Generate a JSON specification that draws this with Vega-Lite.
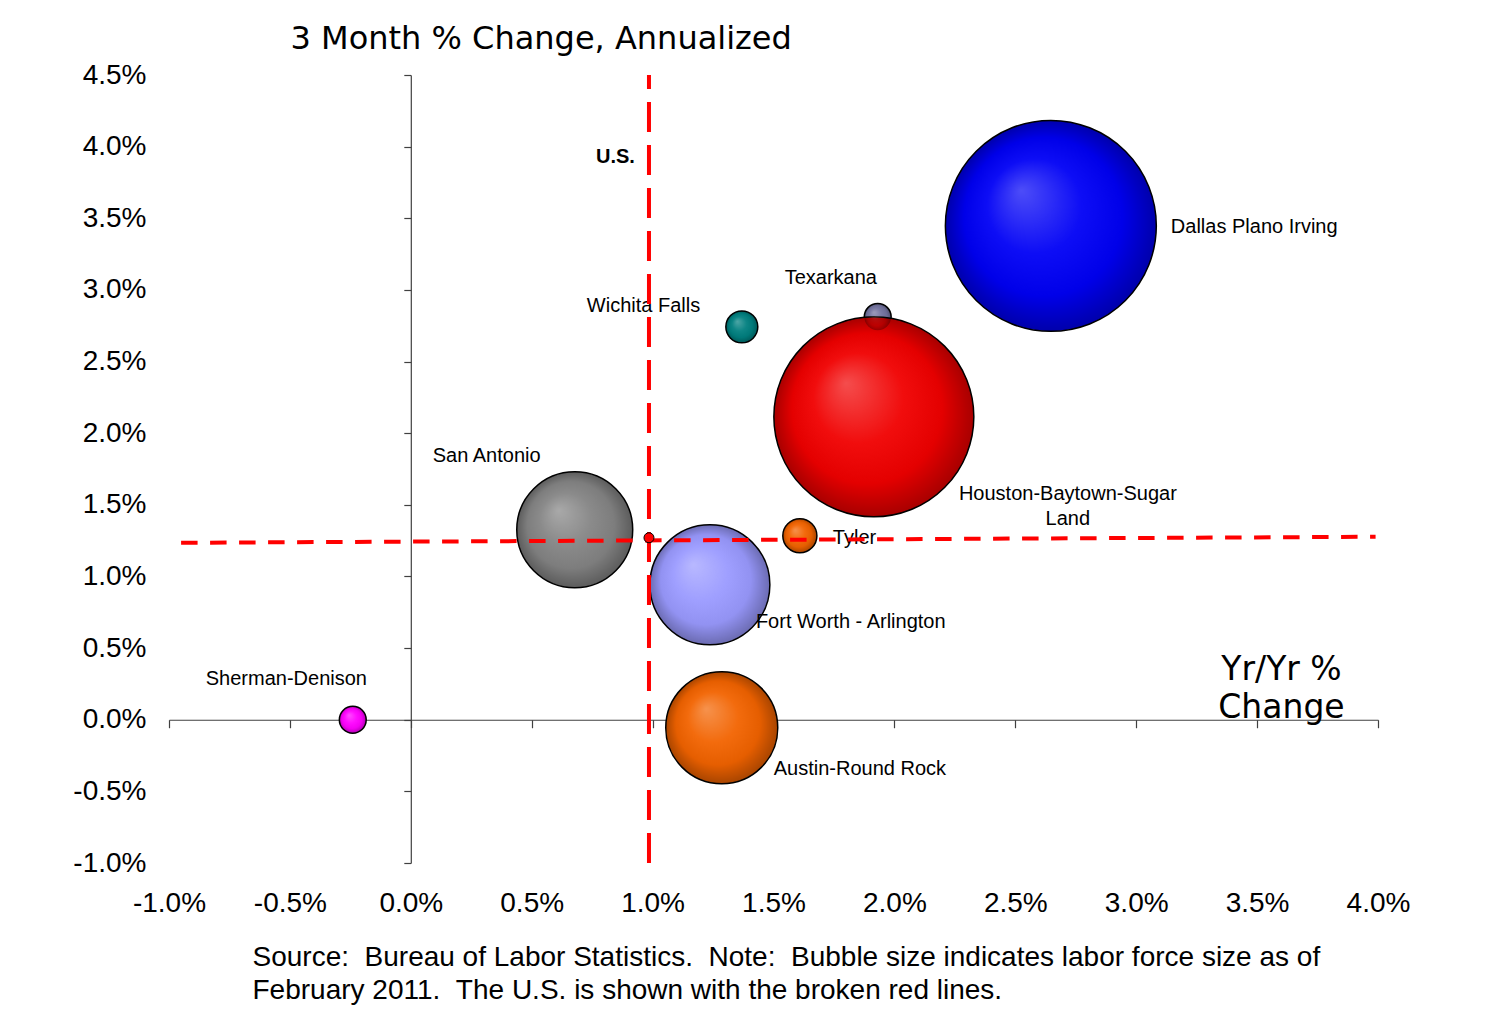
{
  "$schema": "https://vega.github.io/schema/vega-lite/v6.json",
  "width": 1209,
  "height": 788,
  "autosize": {"type": "none"},
  "padding": {"left": 169, "top": 75, "right": 112, "bottom": 148},
  "background": "white",
  "config": {"view": {"stroke": null}, "font": "Liberation Sans"},
  "datasets": {
    "bubbles": [
      {"area": "Texarkana", "yoy": 0.01931, "m3": 0.02812, "labor": 36},
      {"area": "Dallas Plano Irving", "yoy": 0.02647, "m3": 0.03447, "labor": 2221},
      {"area": "Houston-Baytown-Sugar Land", "yoy": 0.01915, "m3": 0.02114, "labor": 1996},
      {"area": "Wichita Falls", "yoy": 0.01369, "m3": 0.02742, "labor": 51},
      {"area": "San Antonio", "yoy": 0.00678, "m3": 0.01326, "labor": 671},
      {"area": "Fort Worth - Arlington", "yoy": 0.01237, "m3": 0.00942, "labor": 718},
      {"area": "Tyler", "yoy": 0.01609, "m3": 0.01284, "labor": 58},
      {"area": "Austin-Round Rock", "yoy": 0.01286, "m3": -0.00056, "labor": 626},
      {"area": "Sherman-Denison", "yoy": -0.0024, "m3": 0.0, "labor": 36}
    ],
    "us": [{"area": "U.S.", "yoy": 0.00985, "m3": 0.0127}],
    "uslines": [
      {"line": "vertical", "yoy": 0.00985, "m3": -0.01},
      {"line": "vertical", "yoy": 0.00985, "m3": 0.045},
      {"line": "horizontal", "yoy": -0.0095, "m3": 0.01235},
      {"line": "horizontal", "yoy": 0.0399, "m3": 0.01277}
    ]
  },
  "resolve": {"axis": {"x": "independent", "y": "independent"}},
  "layer": [
    {
      "data": {"name": "bubbles"},
      "mark": {"type": "point", "filled": true, "opacity": 1, "stroke": "black", "strokeWidth": 1.5},
      "encoding": {
        "x": {
          "field": "yoy", "type": "quantitative",
          "scale": {"domain": [-0.01, 0.04], "nice": false, "zero": false},
          "axis": {
            "orient": "bottom",
            "values": [-0.01, -0.005, 0, 0.005, 0.01, 0.015, 0.02, 0.025, 0.03, 0.035, 0.04],
            "labelExpr": "replace(format(datum.value, '.1%'), '\u2212', '-')",
            "domain": false, "ticks": false, "grid": false,
            "labelFont": "Liberation Sans", "labelFontSize": 28, "labelColor": "black",
            "labelPadding": 26, "labelFlush": false, "labelOverlap": false,
            "title": ["Source: \u00a0Bureau of Labor Statistics. \u00a0Note: \u00a0Bubble size indicates labor force size as of", "February 2011. \u00a0The U.S. is shown with the broken red lines."],
            "titleFont": "Liberation Sans", "titleFontSize": 28, "titleFontWeight": "normal", "titleColor": "black",
            "titleAlign": "left", "titleAnchor": "start", "titleBaseline": "alphabetic",
            "titleX": 83, "titleY": 102, "titleLineHeight": 33
          }
        },
        "y": {
          "field": "m3", "type": "quantitative",
          "scale": {"domain": [-0.01, 0.045], "nice": false, "zero": false},
          "axis": {
            "orient": "left",
            "values": [-0.01, -0.005, 0, 0.005, 0.01, 0.015, 0.02, 0.025, 0.03, 0.035, 0.04, 0.045],
            "labelExpr": "replace(format(datum.value, '.1%'), '\u2212', '-')",
            "domain": false, "ticks": false, "grid": false,
            "labelFont": "Liberation Sans", "labelFontSize": 28, "labelColor": "black",
            "labelPadding": 23, "labelFlush": false, "labelOverlap": false,
            "title": "3 Month % Change, Annualized",
            "titleFont": "DejaVu Sans", "titleFontSize": 32, "titleFontWeight": "normal", "titleColor": "black",
            "titleAngle": 0, "titleAlign": "left", "titleAnchor": "start", "titleBaseline": "alphabetic",
            "titleX": 121, "titleY": -27
          }
        },
        "size": {
          "field": "labor", "type": "quantitative",
          "scale": {"type": "linear", "domain": [0, 2221], "range": [0, 44500], "zero": true},
          "legend": null
        },
        "color": {
          "field": "area", "type": "nominal",
          "scale": {
            "domain": ["Texarkana", "Dallas Plano Irving", "Houston-Baytown-Sugar Land", "Wichita Falls", "San Antonio", "Fort Worth - Arlington", "Tyler", "Austin-Round Rock", "Sherman-Denison"],
            "range": ["#72729E", "#0000F5", "#F00000", "#007F7F", "#848484", "#9A9AFF", "#F26300", "#F26300", "#FF00FF"]
          },
          "legend": null
        }
      }
    },
    {
      "data": {"name": "bubbles"},
      "mark": {
        "type": "point", "filled": true, "opacity": 1, "strokeWidth": 0,
        "fill": {
          "gradient": "radial", "x1": 0.36, "y1": 0.33, "r1": 0, "x2": 0.5, "y2": 0.5, "r2": 0.5,
          "stops": [
            {"offset": 0, "color": "rgba(255,255,255,0.3)"},
            {"offset": 0.45, "color": "rgba(255,255,255,0.05)"},
            {"offset": 0.75, "color": "rgba(0,0,0,0.05)"},
            {"offset": 1, "color": "rgba(0,0,0,0.3)"}
          ]
        }
      },
      "encoding": {
        "x": {"field": "yoy", "type": "quantitative", "axis": null},
        "y": {"field": "m3", "type": "quantitative", "axis": null},
        "size": {"field": "labor", "type": "quantitative", "legend": null}
      }
    },
    {
      "data": {"name": "bubbles"},
      "transform": [{"filter": "datum.area === 'Dallas Plano Irving'"}],
      "mark": {"type": "text", "align": "left", "baseline": "alphabetic", "dx": 120, "dy": 7, "fontSize": 20, "font": "Liberation Sans", "color": "black"},
      "encoding": {"x": {"field": "yoy", "type": "quantitative", "axis": null}, "y": {"field": "m3", "type": "quantitative", "axis": null}, "text": {"field": "area"}}
    },
    {
      "data": {"name": "bubbles"},
      "transform": [{"filter": "datum.area === 'Texarkana'"}],
      "mark": {"type": "text", "align": "left", "baseline": "alphabetic", "dx": -93, "dy": -33, "fontSize": 20, "font": "Liberation Sans", "color": "black"},
      "encoding": {"x": {"field": "yoy", "type": "quantitative", "axis": null}, "y": {"field": "m3", "type": "quantitative", "axis": null}, "text": {"field": "area"}}
    },
    {
      "data": {"name": "bubbles"},
      "transform": [{"filter": "datum.area === 'Wichita Falls'"}],
      "mark": {"type": "text", "align": "left", "baseline": "alphabetic", "dx": -155, "dy": -15, "fontSize": 20, "font": "Liberation Sans", "color": "black"},
      "encoding": {"x": {"field": "yoy", "type": "quantitative", "axis": null}, "y": {"field": "m3", "type": "quantitative", "axis": null}, "text": {"field": "area"}}
    },
    {
      "data": {"name": "bubbles"},
      "transform": [{"filter": "datum.area === 'San Antonio'"}],
      "mark": {"type": "text", "align": "left", "baseline": "alphabetic", "dx": -142, "dy": -68, "fontSize": 20, "font": "Liberation Sans", "color": "black"},
      "encoding": {"x": {"field": "yoy", "type": "quantitative", "axis": null}, "y": {"field": "m3", "type": "quantitative", "axis": null}, "text": {"field": "area"}}
    },
    {
      "data": {"name": "bubbles"},
      "transform": [{"filter": "datum.area === 'Houston-Baytown-Sugar Land'"}],
      "mark": {"type": "text", "align": "center", "baseline": "alphabetic", "dx": 194, "dy": 83, "fontSize": 20, "font": "Liberation Sans", "color": "black", "lineBreak": "|", "lineHeight": 25},
      "encoding": {"x": {"field": "yoy", "type": "quantitative", "axis": null}, "y": {"field": "m3", "type": "quantitative", "axis": null}, "text": {"value": "Houston-Baytown-Sugar|Land"}}
    },
    {
      "data": {"name": "bubbles"},
      "transform": [{"filter": "datum.area === 'Tyler'"}],
      "mark": {"type": "text", "align": "left", "baseline": "alphabetic", "dx": 33, "dy": 8, "fontSize": 20, "font": "Liberation Sans", "color": "black"},
      "encoding": {"x": {"field": "yoy", "type": "quantitative", "axis": null}, "y": {"field": "m3", "type": "quantitative", "axis": null}, "text": {"field": "area"}}
    },
    {
      "data": {"name": "bubbles"},
      "transform": [{"filter": "datum.area === 'Fort Worth - Arlington'"}],
      "mark": {"type": "text", "align": "left", "baseline": "alphabetic", "dx": 46, "dy": 43, "fontSize": 20, "font": "Liberation Sans", "color": "black"},
      "encoding": {"x": {"field": "yoy", "type": "quantitative", "axis": null}, "y": {"field": "m3", "type": "quantitative", "axis": null}, "text": {"field": "area"}}
    },
    {
      "data": {"name": "bubbles"},
      "transform": [{"filter": "datum.area === 'Austin-Round Rock'"}],
      "mark": {"type": "text", "align": "left", "baseline": "alphabetic", "dx": 52, "dy": 47, "fontSize": 20, "font": "Liberation Sans", "color": "black"},
      "encoding": {"x": {"field": "yoy", "type": "quantitative", "axis": null}, "y": {"field": "m3", "type": "quantitative", "axis": null}, "text": {"field": "area"}}
    },
    {
      "data": {"name": "bubbles"},
      "transform": [{"filter": "datum.area === 'Sherman-Denison'"}],
      "mark": {"type": "text", "align": "left", "baseline": "alphabetic", "dx": -147, "dy": -35, "fontSize": 20, "font": "Liberation Sans", "color": "black"},
      "encoding": {"x": {"field": "yoy", "type": "quantitative", "axis": null}, "y": {"field": "m3", "type": "quantitative", "axis": null}, "text": {"field": "area"}}
    },
    {
      "data": {"name": "us"},
      "mark": {"type": "text", "align": "left", "baseline": "alphabetic", "dx": -53, "dy": -375, "fontSize": 20, "fontWeight": "bold", "font": "Liberation Sans", "color": "black"},
      "encoding": {"x": {"field": "yoy", "type": "quantitative", "axis": null}, "y": {"field": "m3", "type": "quantitative", "axis": null}, "text": {"field": "area"}}
    },
    {
      "data": {"name": "uslines"},
      "mark": {"type": "line", "color": "#FF0000", "strokeWidth": 4, "strokeCap": "butt"},
      "encoding": {
        "x": {
          "field": "yoy", "type": "quantitative",
          "axis": {
            "orient": "bottom", "offset": -143.27,
            "values": [-0.01, -0.005, 0, 0.005, 0.01, 0.015, 0.02, 0.025, 0.03, 0.035, 0.04],
            "labels": false, "grid": false,
            "domain": true, "domainColor": "#404040", "domainWidth": 1.2,
            "ticks": true, "tickColor": "#404040", "tickWidth": 1.2, "tickSize": 8,
            "title": ["Yr/Yr %", "Change"],
            "titleFont": "DejaVu Sans", "titleFontSize": 33, "titleFontWeight": "normal", "titleColor": "black",
            "titleAlign": "center", "titleAnchor": "start", "titleBaseline": "alphabetic",
            "titleX": 1112, "titleY": -40, "titleLineHeight": 38
          }
        },
        "y": {
          "field": "m3", "type": "quantitative",
          "axis": {
            "orient": "left", "offset": -241.8,
            "values": [-0.01, -0.005, 0, 0.005, 0.01, 0.015, 0.02, 0.025, 0.03, 0.035, 0.04, 0.045],
            "labels": false, "grid": false,
            "domain": true, "domainColor": "#404040", "domainWidth": 1.2,
            "ticks": true, "tickColor": "#404040", "tickWidth": 1.2, "tickSize": 7,
            "title": null
          }
        },
        "detail": {"field": "line", "type": "nominal"},
        "strokeDash": {
          "field": "line", "type": "nominal",
          "scale": {"domain": ["vertical", "horizontal"], "range": [[30, 13], [16.5, 12.5]]},
          "legend": null
        }
      }
    },
    {
      "data": {"name": "us"},
      "mark": {"type": "point", "filled": true, "opacity": 1, "color": "#FF0000", "stroke": "black", "strokeWidth": 1, "size": 100},
      "encoding": {"x": {"field": "yoy", "type": "quantitative", "axis": null}, "y": {"field": "m3", "type": "quantitative", "axis": null}}
    }
  ]
}
